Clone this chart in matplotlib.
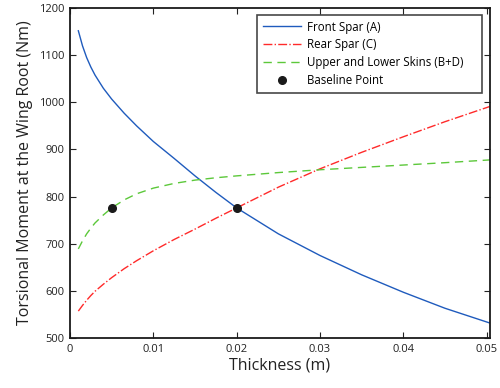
import matplotlib
matplotlib.use("Agg")
import matplotlib.pyplot as plt

plt.rcParams['font.family'] = ['Open Sans', 'DejaVu Sans']

# Skin / spar thickness samples (m)
thickness = [0.001, 0.0015, 0.002, 0.0025, 0.003, 0.004, 0.005, 0.0065, 0.008,
             0.01, 0.0125, 0.015, 0.0175, 0.02, 0.025, 0.03, 0.035, 0.04,
             0.045, 0.0505]

# Torsional moment at the wing root (Nm) for each varied component
front_spar = [1152, 1120, 1095, 1075, 1058, 1030, 1007, 977, 950,
              917, 881, 844, 809, 776, 721, 675, 634, 597,
              563, 531]
rear_spar = [557, 569, 580, 590, 599, 614, 628, 647, 664,
             685, 709, 731, 754, 776, 820, 859, 894, 927,
             959, 992]
skins = [689, 706, 721, 733, 744, 761, 776, 793, 806,
         818, 828, 835, 840, 844, 851, 857, 862, 867,
         872, 878]

# Baseline design points
baseline_x = [0.005, 0.02]
baseline_y = [776, 776]

x_ticks = [0, 0.01, 0.02, 0.03, 0.04, 0.05]
x_tick_labels = ['0', '0.01', '0.02', '0.03', '0.04', '0.05']
y_ticks = [500, 600, 700, 800, 900, 1000, 1100, 1200]

fig = plt.figure(figsize=(5.0, 3.88), dpi=100)
ax = fig.add_axes([0.14, 0.129, 0.84, 0.850])

ax.plot(thickness, front_spar, '-', color='#1f5bbd', lw=1.0, label='Front Spar (A)')
ax.plot(thickness, rear_spar, '-.', color='#ff2a2a', lw=1.0, label='Rear Spar (C)')
ax.plot(thickness, skins, '--', color='#5cc83a', lw=1.0, dashes=(6, 4),
        label='Upper and Lower Skins (B+D)')
ax.plot(baseline_x, baseline_y, 'o', color='#1a1a1a', ms=5.5, ls='none',
        label='Baseline Point')

ax.set_xlim(0, 0.0504)
ax.set_ylim(500, 1200)
ax.set_xticks(x_ticks)
ax.set_xticklabels(x_tick_labels)
ax.set_yticks(y_ticks)
ax.tick_params(direction='in', top=True, right=True, length=4, width=0.8,
               labelsize=8, colors='#222222', pad=4)
for s in ax.spines.values():
    s.set_linewidth(1.3)
    s.set_color('#1a1a1a')

ax.set_xlabel('Thickness (m)', fontsize=11.5, color='#222222', labelpad=2)
ax.set_ylabel('Torsional Moment at the Wing Root (Nm)', fontsize=11.5,
              color='#222222', labelpad=4)

leg = ax.legend(loc='upper left', bbox_to_anchor=(0.446, 0.739, 0.535, 0.241),
                mode='expand', fontsize=8.3,
                frameon=True, fancybox=False, edgecolor='#1a1a1a',
                borderpad=0.5, labelspacing=0.42, handlelength=3.3,
                handletextpad=0.5, borderaxespad=0)
leg.get_frame().set_linewidth(1.2)

fig.savefig('out.png', dpi=100)
